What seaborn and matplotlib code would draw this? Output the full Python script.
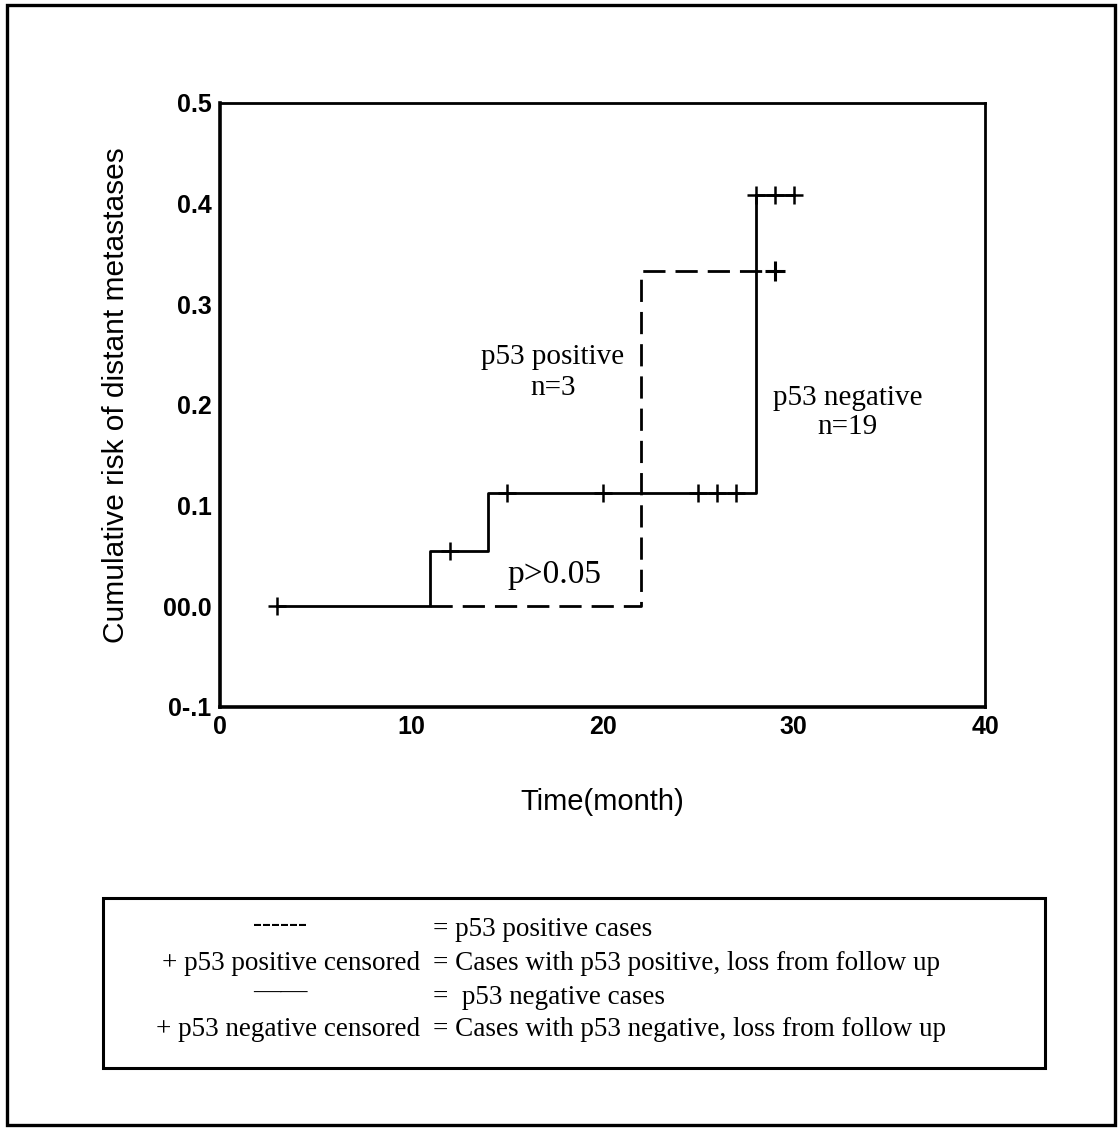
import pandas as pd
import matplotlib
matplotlib.use("Agg")
import matplotlib.pyplot as plt
from matplotlib.patches import Rectangle
import seaborn as sns

# p53 negative (solid) curve: event times and cumulative risk after each step
neg_times = [3, 11, 14, 28, 30]
neg_risk = [0.0, 0.055, 0.113, 0.409, 0.409]
neg_censor_times = [3, 12, 15, 20, 25, 26, 27, 28, 29, 30]

# p53 positive (dashed) curve
pos_times = [11, 22, 29]
pos_risk = [0.0, 0.333, 0.333]
pos_censor_times = [29]

xticks = [0, 10, 20, 30, 40]
yticks = [-0.1, 0.0, 0.1, 0.2, 0.3, 0.4, 0.5]
ytick_labels = ["0-.1", "00.0", "0.1", "0.2", "0.3", "0.4", "0.5"]

legend_left = ["------", "+ p53 positive censored", "——", "+ p53 negative censored"]
legend_right = [
    "= p53 positive cases",
    "= Cases with p53 positive, loss from follow up",
    "=  p53 negative cases",
    "= Cases with p53 negative, loss from follow up",
]


def step_value(times, risk, t):
    # cumulative risk in force at time t (step function, right-continuous)
    val = risk[0]
    for tt, rr in zip(times, risk):
        if tt <= t:
            val = rr
    return val


sns.set_theme(style="white")
plt.rcParams["font.family"] = ["Liberation Sans", "DejaVu Sans"]
plt.rcParams["text.color"] = "black"
plt.rcParams["axes.labelcolor"] = "black"
plt.rcParams["xtick.color"] = "black"
plt.rcParams["ytick.color"] = "black"

neg_df = pd.DataFrame({"time": neg_times, "risk": neg_risk})
pos_df = pd.DataFrame({"time": pos_times, "risk": pos_risk})
neg_cens = pd.DataFrame({
    "time": neg_censor_times,
    "risk": [step_value(neg_times, neg_risk, t) for t in neg_censor_times],
})
pos_cens = pd.DataFrame({
    "time": pos_censor_times,
    "risk": [step_value(pos_times, pos_risk, t) for t in pos_censor_times],
})

fig = plt.figure(figsize=(11.2, 11.3), dpi=100)
ax = fig.add_axes([220 / 1120, 1 - 707 / 1130, 765 / 1120, 604 / 1130])

sns.lineplot(data=pos_df, x="time", y="risk", ax=ax, color="black",
             linewidth=2.0, drawstyle="steps-post", linestyle=(0, (8, 3.6)),
             estimator=None, sort=False)
sns.lineplot(data=neg_df, x="time", y="risk", ax=ax, color="black",
             linewidth=2.0, drawstyle="steps-post", estimator=None, sort=False)
sns.scatterplot(data=neg_cens, x="time", y="risk", ax=ax, marker="+",
                color="black", s=160, linewidth=1.8, zorder=3)
sns.scatterplot(data=pos_cens, x="time", y="risk", ax=ax, marker="+",
                color="black", s=200, linewidth=2.2, zorder=3)

ax.set_xlim(0, 40)
ax.set_ylim(-0.1, 0.5)
ax.set_xticks(xticks)
ax.set_yticks(yticks)
ax.set_yticklabels(ytick_labels)
ax.tick_params(axis="both", which="major", direction="out", length=4,
               width=3, color="black", labelsize=18, pad=2)
for lab in ax.get_xticklabels() + ax.get_yticklabels():
    lab.set_fontweight("bold")
for sp in ax.spines.values():
    sp.set_color("black")
    sp.set_linewidth(2.0)
ax.spines["left"].set_linewidth(2.6)
ax.spines["bottom"].set_linewidth(2.6)

ax.set_xlabel("Time(month)", fontsize=21)
ax.set_ylabel("Cumulative risk of distant metastases", fontsize=21.5)
ax.xaxis.set_label_coords(0.5, -0.134)
ax.yaxis.set_label_coords(-0.117, 0.517)

serif = ["Liberation Serif", "DejaVu Serif"]
ax.text(17.4, 0.248, "p53 positive", ha="center", va="center", fontsize=21, family=serif)
ax.text(17.4, 0.217, "n=3", ha="center", va="center", fontsize=21, family=serif)
ax.text(32.8, 0.207, "p53 negative", ha="center", va="center", fontsize=21, family=serif)
ax.text(32.8, 0.178, "n=19", ha="center", va="center", fontsize=21, family=serif)
ax.text(17.5, 0.031, "p>0.05", ha="center", va="center", fontsize=24, family=serif)

# legend box drawn as text rows
fig.add_artist(Rectangle((103 / 1120, 1 - 1068 / 1130), 942 / 1120, 170 / 1130,
                         transform=fig.transFigure, fill=False,
                         edgecolor="black", linewidth=2.2))
row_y = [929, 964, 997, 1030]
for i, (left, right) in enumerate(zip(legend_left, legend_right)):
    y = 1 - row_y[i] / 1130
    if left.startswith("+"):
        fig.text(420 / 1120, y, left, ha="right", va="center", fontsize=19.5, family=serif)
    else:
        fig.text(280 / 1120, y + 0.004, left, ha="center", va="center", fontsize=19.5, family=serif)
    fig.text(433 / 1120, y, right, ha="left", va="center", fontsize=19.5, family=serif)

# outer frame
fig.add_artist(Rectangle((7 / 1120, 1 - 1125 / 1130), 1108 / 1120, 1120 / 1130,
                         transform=fig.transFigure, fill=False,
                         edgecolor="black", linewidth=2.4))

fig.savefig("out.png", dpi=100, facecolor="white")
